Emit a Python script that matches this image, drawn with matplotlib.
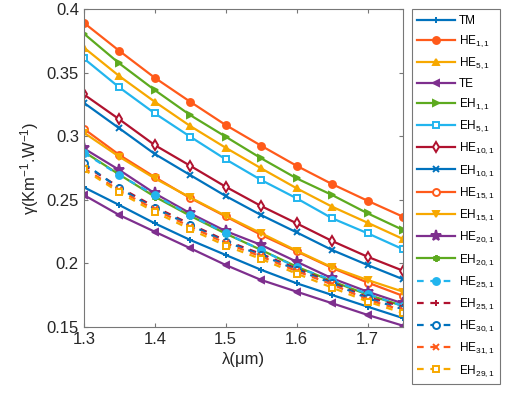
import matplotlib.pyplot as plt

plt.rcParams["font.family"] = ["Liberation Sans", "DejaVu Sans"]
plt.rcParams["mathtext.fontset"] = "custom"
plt.rcParams["mathtext.rm"] = "Liberation Sans"
plt.rcParams["mathtext.it"] = "Liberation Sans:italic"

wavelength = [1.30, 1.35, 1.40, 1.45, 1.50, 1.55, 1.60, 1.65, 1.70, 1.75]

gamma_TM = [0.260, 0.246, 0.2316, 0.2185, 0.2067, 0.195, 0.1844, 0.1752, 0.166, 0.157]
gamma_HE11 = [0.3895, 0.3674, 0.3462, 0.3273, 0.309, 0.2927, 0.2769, 0.2625, 0.2494, 0.2368]
gamma_HE51 = [0.370, 0.3475, 0.3273, 0.3082, 0.2911, 0.2749, 0.2592, 0.2447, 0.2321, 0.2193]
gamma_TE = [0.2539, 0.2381, 0.225, 0.212, 0.1988, 0.187, 0.1778, 0.1687, 0.1595, 0.151]
gamma_EH11 = [0.381, 0.3575, 0.3365, 0.3168, 0.2998, 0.2828, 0.267, 0.2539, 0.2395, 0.2264]
gamma_EH51 = [0.3614, 0.3386, 0.3182, 0.2998, 0.282, 0.2657, 0.2513, 0.2356, 0.2238, 0.2112]
gamma_HE101 = [0.3331, 0.3135, 0.2932, 0.2769, 0.2604, 0.2452, 0.2316, 0.2177, 0.2053, 0.1943]
gamma_EH101 = [0.3265, 0.3064, 0.2862, 0.2696, 0.2531, 0.2381, 0.2245, 0.2106, 0.1988, 0.1876]
gamma_HE151 = [0.306, 0.2855, 0.268, 0.2515, 0.237, 0.2225, 0.2095, 0.1965, 0.185, 0.1745]
gamma_EH151 = [0.303, 0.284, 0.267, 0.252, 0.2375, 0.2238, 0.2101, 0.197, 0.187, 0.1778]
gamma_HE201 = [0.2906, 0.2736, 0.2552, 0.2395, 0.2255, 0.2146, 0.2014, 0.1883, 0.1778, 0.1685]
gamma_EH201 = [0.288, 0.270, 0.2526, 0.2375, 0.2235, 0.2106, 0.1975, 0.186, 0.1755, 0.1665]
gamma_HE251 = [0.2872, 0.2696, 0.2539, 0.2381, 0.2238, 0.2106, 0.197, 0.187, 0.176, 0.1665]
gamma_EH251 = [0.2775, 0.260, 0.2445, 0.231, 0.218, 0.2075, 0.196, 0.185, 0.1735, 0.166]
gamma_HE301 = [0.2788, 0.2592, 0.2434, 0.2303, 0.2171, 0.2067, 0.195, 0.1844, 0.1726, 0.164]
gamma_HE311 = [0.275, 0.2575, 0.2425, 0.229, 0.216, 0.2055, 0.194, 0.1835, 0.1715, 0.163]
gamma_EH291 = [0.274, 0.256, 0.2405, 0.227, 0.214, 0.2035, 0.192, 0.181, 0.170, 0.161]

blue = "#0072BD"
orange = "#FF5A1A"
yellow = "#F7A800"
purple = "#7E2F8E"
green = "#5DAA1F"
cyan = "#22B5EE"
red = "#B0122F"

# (label, data, color, marker, filled, linestyle)
series = [
    ("TM", gamma_TM, blue, "+", True, "-"),
    (r"HE$_{1,1}$", gamma_HE11, orange, "o", True, "-"),
    (r"HE$_{5,1}$", gamma_HE51, yellow, "^", True, "-"),
    ("TE", gamma_TE, purple, "<", True, "-"),
    (r"EH$_{1,1}$", gamma_EH11, green, ">", True, "-"),
    (r"EH$_{5,1}$", gamma_EH51, cyan, "s", False, "-"),
    (r"HE$_{10,1}$", gamma_HE101, red, "d", False, "-"),
    (r"EH$_{10,1}$", gamma_EH101, blue, "x", True, "-"),
    (r"HE$_{15,1}$", gamma_HE151, orange, "o", False, "-"),
    (r"EH$_{15,1}$", gamma_EH151, yellow, "v", True, "-"),
    (r"HE$_{20,1}$", gamma_HE201, purple, "*", True, "-"),
    (r"EH$_{20,1}$", gamma_EH201, green, (6, 2, 0), True, "-"),
    (r"HE$_{25,1}$", gamma_HE251, cyan, "o", True, (0, (3, 3))),
    (r"EH$_{25,1}$", gamma_EH251, red, "+", True, (0, (3, 3))),
    (r"HE$_{30,1}$", gamma_HE301, blue, "o", False, (0, (3, 3))),
    (r"HE$_{31,1}$", gamma_HE311, orange, "x", True, (0, (3, 3))),
    (r"EH$_{29,1}$", gamma_EH291, yellow, "s", False, (0, (3, 3))),
]

fig = plt.figure(figsize=(5.05, 3.93), dpi=100)
ax = fig.add_axes([0.166, 0.168, 0.632, 0.808])

for label, vals, col, mk, filled, ls in series:
    size = 8 if mk == "*" else 5
    ax.plot(wavelength, vals, color=col, linestyle=ls, linewidth=1.6,
            marker=mk, markersize=size, markeredgewidth=1.4,
            markerfacecolor=col if filled else "white",
            markeredgecolor=col, label=label)

ax.set_xlim(1.3, 1.75)
ax.set_ylim(0.15, 0.4)
ax.set_xticks([1.3, 1.4, 1.5, 1.6, 1.7])
ax.set_xticklabels(["1.3", "1.4", "1.5", "1.6", "1.7"])
ax.set_yticks([0.15, 0.2, 0.25, 0.3, 0.35, 0.4])
ax.set_yticklabels(["0.15", "0.2", "0.25", "0.3", "0.35", "0.4"])
ax.tick_params(direction="in", top=True, right=True, labelsize=12,
               length=3, color="#777777", labelcolor="#262626")
for sp in ax.spines.values():
    sp.set_color("#777777")
    sp.set_linewidth(0.8)

ax.set_xlabel("λ(μm)", fontsize=12, color="#262626", labelpad=4)
ax.set_ylabel(r"γ(Km$^{-1}$.W$^{-1}$)", fontsize=12, color="#262626", labelpad=4)

leg = fig.legend(loc="upper left", bbox_to_anchor=(0.816, 0.976), fontsize=8.5,
                 handlelength=3.2, handletextpad=0.3, labelspacing=0.56,
                 borderpad=0.45, borderaxespad=0, fancybox=False, framealpha=1)
leg.get_frame().set_edgecolor("#777777")
leg.get_frame().set_linewidth(0.8)

fig.savefig("out.png", dpi=100)
